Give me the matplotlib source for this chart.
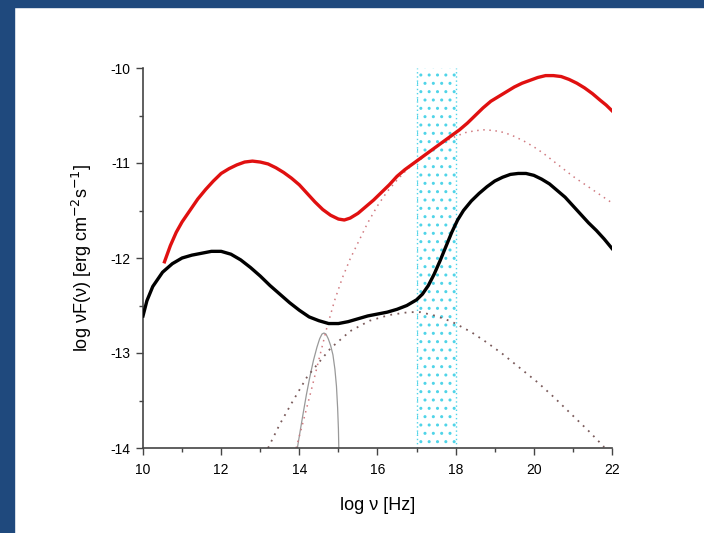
import matplotlib

matplotlib.use("Agg")
import matplotlib.pyplot as plt
from matplotlib.patches import Rectangle
from matplotlib.ticker import MultipleLocator

# total SED (red), lower state (black) and model components
red_x = [10.55, 10.7, 10.85, 11.0, 11.2, 11.4, 11.6, 11.8, 12.0, 12.2, 12.4, 12.6, 12.8, 13.0,
         13.2, 13.4, 13.6, 13.8, 14.0, 14.2, 14.4, 14.6, 14.8, 15.0, 15.15, 15.3, 15.5, 15.7,
         15.9, 16.1, 16.3, 16.5, 16.7, 16.9, 17.1, 17.3, 17.5, 17.7, 17.9, 18.1, 18.3, 18.5,
         18.7, 18.9, 19.1, 19.3, 19.5, 19.7, 19.9, 20.1, 20.3, 20.5, 20.7, 20.9, 21.1, 21.3,
         21.5, 21.7, 21.85, 22.0]
red_y = [-12.04, -11.87, -11.73, -11.62, -11.50, -11.38, -11.28, -11.19, -11.11, -11.06, -11.02,
         -10.99, -10.98, -10.99, -11.01, -11.05, -11.10, -11.16, -11.23, -11.32, -11.41, -11.49,
         -11.55, -11.59, -11.60, -11.58, -11.53, -11.46, -11.39, -11.31, -11.23, -11.14, -11.07,
         -11.01, -10.95, -10.89, -10.83, -10.77, -10.71, -10.65, -10.58, -10.50, -10.42, -10.35,
         -10.30, -10.25, -10.20, -10.16, -10.13, -10.10, -10.08, -10.08, -10.09, -10.12, -10.16,
         -10.21, -10.27, -10.34, -10.39, -10.45]

black_x = [10.0, 10.1, 10.25, 10.5, 10.75, 11.0, 11.25, 11.5, 11.75, 12.0, 12.25, 12.5, 12.75,
           13.0, 13.25, 13.5, 13.75, 14.0, 14.25, 14.5, 14.75, 15.0, 15.25, 15.5, 15.75, 16.0,
           16.25, 16.5, 16.75, 17.0, 17.15, 17.3, 17.45, 17.6, 17.75, 17.9, 18.05, 18.2, 18.4,
           18.6, 18.8, 19.0, 19.2, 19.4, 19.6, 19.8, 20.0, 20.2, 20.4, 20.6, 20.8, 21.0, 21.2,
           21.4, 21.6, 21.8, 22.0]
black_y = [-12.61, -12.45, -12.30, -12.15, -12.06, -12.00, -11.97, -11.95, -11.93, -11.93, -11.96,
           -12.02, -12.10, -12.19, -12.29, -12.38, -12.47, -12.55, -12.62, -12.66, -12.69, -12.69,
           -12.67, -12.64, -12.61, -12.59, -12.57, -12.54, -12.50, -12.44, -12.38, -12.29, -12.17,
           -12.03, -11.88, -11.73, -11.60, -11.50, -11.40, -11.32, -11.25, -11.19, -11.15, -11.12,
           -11.11, -11.11, -11.13, -11.17, -11.22, -11.29, -11.36, -11.45, -11.54, -11.63, -11.71,
           -11.80, -11.90]

ssc_x = [13.92, 14.1, 14.3, 14.5, 14.7, 14.9, 15.1, 15.3, 15.5, 15.75, 16.0, 16.25, 16.5, 16.75,
         17.0, 17.25, 17.5, 17.75, 18.0, 18.25, 18.5, 18.75, 19.0, 19.25, 19.5, 19.75, 20.0,
         20.25, 20.5, 20.75, 21.0, 21.25, 21.5, 21.75, 22.0]
ssc_y = [-14.0, -13.72, -13.40, -13.07, -12.74, -12.45, -12.21, -12.01, -11.84, -11.63, -11.45,
         -11.30, -11.18, -11.07, -10.98, -10.90, -10.83, -10.77, -10.72, -10.68, -10.66, -10.65,
         -10.66, -10.68, -10.72, -10.77, -10.83, -10.90, -10.98, -11.06, -11.14, -11.21, -11.28,
         -11.35, -11.42]

low_x = [13.2, 13.5, 13.8, 14.2, 14.5, 14.8, 15.3, 15.8, 16.3, 16.8, 17.1, 17.5, 17.9, 18.4,
         18.8, 19.2, 19.65, 20.1, 20.5, 21.0, 21.4, 21.8]
low_y = [-14.0, -13.75, -13.53, -13.25, -13.10, -12.95, -12.77, -12.66, -12.60, -12.57, -12.57,
         -12.61, -12.67, -12.78, -12.89, -13.01, -13.16, -13.31, -13.46, -13.66, -13.82, -13.99]

bb_x = [13.95, 14.03, 14.1, 14.18, 14.27, 14.36, 14.45, 14.52, 14.58, 14.63, 14.68, 14.74, 14.8,
        14.86, 14.91, 14.95, 14.98, 15.0, 15.01]
bb_y = [-14.0, -13.80, -13.63, -13.44, -13.25, -13.08, -12.94, -12.85, -12.80, -12.79, -12.80,
        -12.85, -12.92, -13.02, -13.17, -13.35, -13.58, -13.80, -14.0]

band = (17, 18)

plt.rcParams["font.family"] = ["Liberation Sans", "DejaVu Sans"]
plt.rcParams["axes.unicode_minus"] = False

fig = plt.figure(figsize=(7.04, 5.33), dpi=100)
# dark blue slide frame on left and top
W, H = 704, 533
fig.patches.append(Rectangle((0, 0), 14 / W, 1, transform=fig.transFigure,
                             color="#1f497d", zorder=0))
fig.patches.append(Rectangle((0, 1 - 7 / H), 1, 7 / H, transform=fig.transFigure,
                             color="#1f497d", zorder=0))

ax = fig.add_axes([143 / W, 1 - 448 / H, (612 - 143) / W, (448 - 68) / H])

ax.axvspan(band[0], band[1], facecolor="none", edgecolor="#4fd4e8", hatch="..",
           linewidth=0, zorder=1)
for xb in band:
    ax.axvline(xb, color="#4fd4e8", lw=1.0, ls=(0, (1, 2)), zorder=1)

ax.plot(bb_x, bb_y, color="#999999", lw=0.9, zorder=2)
ax.plot(low_x, low_y, color="#7a5a5a", lw=1.3, ls=(0, (1, 3)), zorder=2)
ax.plot(ssc_x, ssc_y, color="#d07a80", lw=1.1, ls=(0, (1, 3)), zorder=2)
ax.plot(black_x, black_y, color="black", lw=2.4, zorder=3)
ax.plot(red_x, red_y, color="#e01010", lw=2.4, zorder=3)

ax.set_xlim(10, 22)
ax.set_ylim(-14, -10)
ax.xaxis.set_major_locator(MultipleLocator(2))
ax.xaxis.set_minor_locator(MultipleLocator(1))
ax.yaxis.set_major_locator(MultipleLocator(1))
ax.yaxis.set_minor_locator(MultipleLocator(0.5))
ax.tick_params(which="major", direction="out", length=5, width=1.0, color="#444",
               labelsize=10, pad=4)
ax.tick_params(axis="x", which="major", pad=6)
ax.tick_params(which="minor", direction="out", length=3, width=1.0, color="#444")
for s in ("top", "right"):
    ax.spines[s].set_visible(False)
for s in ("left", "bottom"):
    ax.spines[s].set_color("#444")
    ax.spines[s].set_linewidth(1.2)

ax.set_xlabel("log \u03bd [Hz]", fontsize=13, labelpad=14)
ax.set_ylabel("log \u03bdF(\u03bd) [erg cm$^{-2}$s$^{-1}$]", fontsize=13, labelpad=12)

fig.savefig("out.png", dpi=100)
